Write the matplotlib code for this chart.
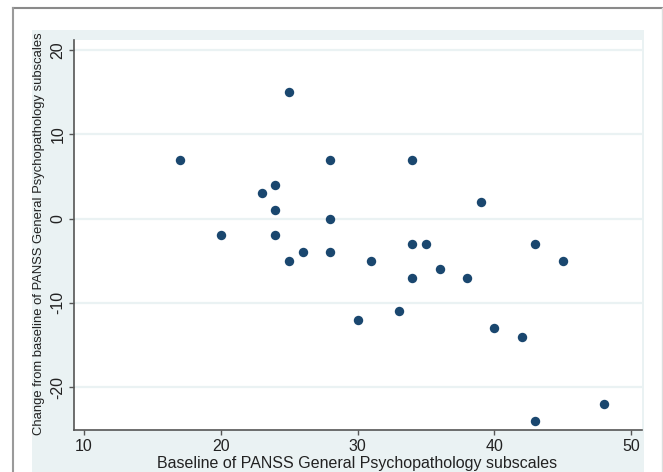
import matplotlib
matplotlib.use("Agg")
import matplotlib.pyplot as plt
from matplotlib.lines import Line2D
from matplotlib.patches import Rectangle

baseline = [17, 20, 23, 24, 24, 24, 25, 25, 26, 28, 28, 28, 30, 31, 33, 34, 34, 34,
            35, 36, 38, 39, 40, 42, 43, 43, 45, 48]
change = [7, -2, 3, 4, 1, -2, 15, -5, -4, 7, 0, -4, -12, -5, -11, 7, -3, -7,
          -3, -6, -7, 2, -13, -14, -3, -24, -5, -22]
xticks = [10, 20, 30, 40, 50]
yticks = [-20, -10, 0, 10, 20]

plt.rcParams['font.family'] = ['Liberation Sans', 'DejaVu Sans']

W, H = 663, 472
fig = plt.figure(figsize=(W / 100, H / 100), dpi=100)
fig.patch.set_facecolor('white')

def fx(px):
    return px / W

def fy(py):
    return 1 - py / H

# light bluish graph region
bg = Rectangle((fx(32), 0), fx(644) - fx(32), fy(30), transform=fig.transFigure,
               facecolor='#eaf2f3', edgecolor='none', zorder=-10)
fig.add_artist(bg)
# outer frame
fig.add_artist(Line2D([fx(13), fx(662)], [fy(8), fy(8)], transform=fig.transFigure,
                      color='#8a8a8a', lw=1.5, zorder=-5))
fig.add_artist(Line2D([fx(13), fx(13)], [fy(8), 0], transform=fig.transFigure,
                      color='#9a9a9a', lw=1.5, zorder=-5))
fig.add_artist(Line2D([fx(662), fx(662)], [fy(8), 0], transform=fig.transFigure,
                      color='#dddddd', lw=1.0, zorder=-5))

L, R, T, B = 74, 642, 40, 430
ax = fig.add_axes([fx(L), fy(B), fx(R) - fx(L), fy(T) - fy(B)])
ax.set_zorder(1)
ax.set_facecolor('white')
ax.scatter(baseline, change, s=46, color='#1a476f', zorder=3, linewidths=0)

ax.set_xlim(9.27, 50.8)
ax.set_ylim(-25.1, 21.2)
ax.set_xticks(xticks)
ax.set_yticks(yticks)
ax.set_xticklabels([str(t) for t in xticks])
ax.set_yticklabels([str(t) for t in yticks], rotation=90, va='center')

for t in yticks:
    ax.axhline(t, color='#eaf2f3', lw=1.6, zorder=1)

for s in ['top', 'right']:
    ax.spines[s].set_visible(False)
for s in ['left', 'bottom']:
    ax.spines[s].set_color('#555555')
    ax.spines[s].set_linewidth(1.2)

ax.tick_params(axis='both', direction='out', length=3.8, width=1.0, color='#555555',
               labelsize=11.5, labelcolor='#222222')
ax.tick_params(axis='x', pad=3)
ax.tick_params(axis='y', pad=2.5)

ax.set_xlabel('Baseline of PANSS General Psychopathology subscales', fontsize=11.5,
              color='#222222')
ax.xaxis.label.set_va('top')
ax.xaxis.set_label_coords((357 - L) / (R - L), -(456 - B) / (B - T))

ax.set_ylabel('Change from baseline of PANSS General Psychopathology subscales', fontsize=9.4,
              color='#222222')
ax.yaxis.label.set_va('center')
ax.yaxis.set_label_coords(-(L - 39) / (R - L), (B - 234) / (B - T))

fig.savefig('out.png', dpi=100)
